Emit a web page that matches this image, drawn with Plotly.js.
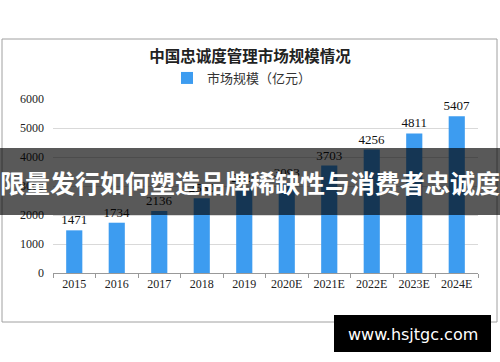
<!DOCTYPE html>
<html><head><meta charset="utf-8">
<script src="https://cdn.plot.ly/plotly-3.0.1.min.js"></script>
<style>html,body{margin:0;padding:0;background:#fff}#c{width:500px;height:362px}</style>
</head><body><div id="c"></div>
<script>
const years = ["2015","2016","2017","2018","2019","2020E","2021E","2022E","2023E","2024E"];
const marketSize = [1471,1734,2136,2580,2925,3093,3703,4256,4811,5407];
const yTicks = [0,1000,2000,3000,4000,5000,6000];
const seriesName = "市场规模（亿元）";
const chartTitle = "中国忠诚度管理市场规模情况";
const bannerText = "限量发行如何塑造品牌稀缺性与消费者忠诚度";
const siteText = "www.hsjtgc.com";

const W=500,H=362, M={l:53,r:22,t:99,b:89};
const PW=W-M.l-M.r, PH=H-M.t-M.b;
const px = v => (v-M.l)/PW;
const py = v => (H-M.b-v)/PH;

const trace = {
  type:'bar', x:years, y:marketSize, name:seriesName,
  marker:{color:'#3d9cf0'},
  text:marketSize.map(String), textposition:'outside', cliponaxis:false, constraintext:'none',
  textfont:{family:'Liberation Serif, serif', size:13, color:'#111'}
};
const layout = {
  width:W, height:H, margin:M,
  paper_bgcolor:'#fff', plot_bgcolor:'#fff',
  bargap:0.62,
  showlegend:true,
  legend:{orientation:'h', x:px(242), xanchor:'center', y:py(78), yanchor:'middle',
    font:{family:'Noto Sans CJK SC', size:13, color:'#333'}, itemwidth:30},
  title:{text:'<b>'+chartTitle+'</b>', x:0.5, xanchor:'center', xref:'container', y:1-57/H, yanchor:'middle',
    font:{family:'Noto Sans CJK SC', size:15.5, color:'#222'}},
  xaxis:{type:'category', showgrid:false, showline:true, linecolor:'#999', linewidth:1,
    ticks:'outside', tickson:'boundaries', ticklen:4, tickcolor:'#999',
    tickfont:{family:'Liberation Serif, serif', size:12, color:'#222'}},
  yaxis:{range:[0,6000], tickvals:yTicks, showgrid:true, gridcolor:'#d9d9d9', zeroline:false,
    showline:false, ticks:'', ticklabelstandoff:8, tickfont:{family:'Liberation Serif, serif', size:12, color:'#222'}},
  shapes:[
    {type:'rect', xref:'paper', yref:'paper', x0:px(2), x1:px(497), y0:py(322), y1:py(39),
     line:{color:'#a0a0a0', width:1}, fillcolor:'rgba(0,0,0,0)', layer:'below'},
    {type:'rect', xref:'paper', yref:'paper', x0:px(0), x1:px(500), y0:py(215), y1:py(148),
     line:{width:0}, fillcolor:'rgba(0,0,0,0.65)', layer:'above'},
    {type:'rect', xref:'paper', yref:'paper', x0:px(334), x1:px(491), y0:py(352), y1:py(315),
     line:{width:0}, fillcolor:'#000', layer:'above'}
  ],
  annotations:[
    {text:'<b>'+bannerText+'</b>', xref:'paper', yref:'paper', x:px(250), y:py(182), xanchor:'center', yanchor:'middle',
     showarrow:false, font:{family:'Noto Sans CJK SC', size:25, color:'#fff'}},
    {text:siteText, xref:'paper', yref:'paper', x:px(412.5), y:py(334), xanchor:'center', yanchor:'middle',
     showarrow:false, font:{family:'DejaVu Sans', size:16, color:'#fff'}}
  ]
};
Plotly.newPlot('c',[trace],layout,{displayModeBar:false,staticPlot:true});
</script></body></html>
